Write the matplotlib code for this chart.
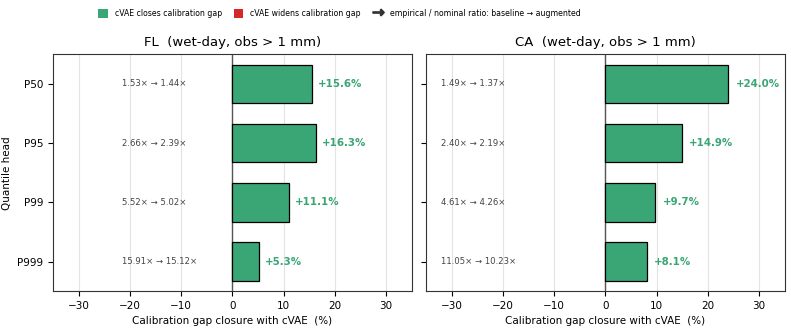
import numpy as np
import matplotlib.pyplot as plt
from matplotlib.patches import Patch
from matplotlib.lines import Line2D

heads = ['P50', 'P95', 'P99', 'P999']
titles = ['FL  (wet-day, obs > 1 mm)', 'CA  (wet-day, obs > 1 mm)']
closure_fl = [15.6, 16.3, 11.1, 5.3]
closure_ca = [24.0, 14.9, 9.7, 8.1]
base_fl = [1.53, 2.66, 5.52, 15.91]
aug_fl = [1.44, 2.39, 5.02, 15.12]
base_ca = [1.49, 2.40, 4.61, 11.05]
aug_ca = [1.37, 2.19, 4.26, 10.23]

green = '#3aa675'
red = '#d62728'

fig, axes = plt.subplots(1, 2, figsize=(7.91, 3.29), dpi=100, sharey=True)
fig.subplots_adjust(left=0.067, right=0.992, top=0.835, bottom=0.115, wspace=0.04)

# (values, baseline ratio, augmented ratio, ratio text x, label offset)
panels = [(closure_fl, base_fl, aug_fl, -21.6, 1.1), (closure_ca, base_ca, aug_ca, -32.1, 1.45)]
y = np.arange(len(heads))
for ax, title, (vals, b, a, tx, off) in zip(axes, titles, panels):
    cols = [green if v >= 0 else red for v in vals]
    ax.barh(y, vals, height=0.65, color=cols, edgecolor='black', linewidth=0.9, zorder=3)
    ax.axvline(0, color='#555555', lw=1.0, zorder=2)
    for yi, v, bb, aa in zip(y, vals, b, a):
        ax.text(v + off, yi, f'{v:+.1f}%', va='center', ha='left', color=green,
                fontsize=7.4, fontweight='bold')
        ax.text(tx, yi, f'{bb:.2f}\u00d7 \u2192 {aa:.2f}\u00d7', va='center', ha='left',
                color='#444444', fontsize=6.1)
    ax.set_xlim(-35, 35)
    ax.set_ylim(3.5, -0.5)
    ax.set_xticks([-30, -20, -10, 0, 10, 20, 30])
    ax.grid(axis='x', color='#e3e3e3', lw=0.8, zorder=0)
    ax.set_title(title, fontsize=9.5)
    ax.set_xlabel('Calibration gap closure with cVAE  (%)', fontsize=7.5)
    ax.tick_params(labelsize=7.5)
    for s in ax.spines.values():
        s.set_color('#333333')

axes[0].set_yticks(y)
axes[0].set_yticklabels(heads)
axes[0].set_ylabel('Quantile head', fontsize=7.5)

handles = [Patch(facecolor=green, label='cVAE closes calibration gap'),
           Patch(facecolor=red, label='cVAE widens calibration gap'),
           Line2D([], [], color='#333333', marker=r'$\rightarrow$', markersize=8, ls='none',
                  label='empirical / nominal ratio: baseline \u2192 augmented')]
fig.legend(handles=handles, loc='upper center', ncol=3, frameon=False, fontsize=5.6,
           bbox_to_anchor=(0.429, 0.995), handlelength=1.2, handleheight=1.5,
           handletextpad=0.9, columnspacing=1.6)

fig.savefig('out.png')
